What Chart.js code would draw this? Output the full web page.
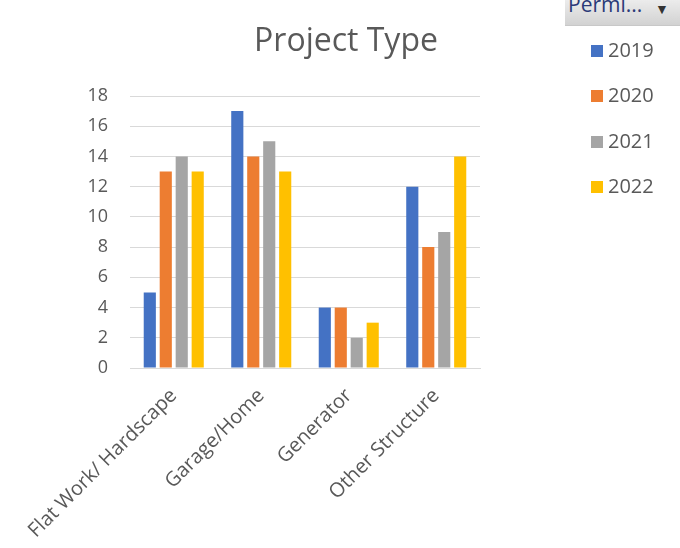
<!DOCTYPE html>
<html>
<head>
<meta charset="utf-8">
<script src="https://cdn.jsdelivr.net/npm/chart.js@4/dist/chart.umd.min.js"></script>
<style>
    body { margin: 0; background: #fff; }
    .wrap { position: relative; width: 680px; height: 548px; overflow: hidden; font-family: 'Open Sans', 'Liberation Sans', sans-serif; }
    #chart { position: absolute; left: 0; top: 0; }
    .title { position: absolute; left: 196px; width: 300px; top: 17px; text-align: center; font-size: 32px; color: #595959; }
    .filter { position: absolute; left: 565px; top: -6px; width: 115px; height: 31px; background: linear-gradient(#f2f2f2, #d2d2d2); border-bottom: 1px solid #c8c8c8; overflow: hidden; }
    .filter span { position: absolute; left: 3px; top: -4px; font-size: 21px; color: #2b3a78; }
    .filter b { position: absolute; left: 90px; top: 5px; font-size: 14px; color: #333; }
    .legend { position: absolute; left: 591px; top: 35px; }
    .legend div { height: 45.3px; font-size: 20px; color: #595959; line-height: 30px; }
    .legend i { display: inline-block; width: 12px; height: 12px; margin-right: 5px; vertical-align: 0px; }
</style>
</head>
<body>
<div class="wrap">
    <canvas id="chart" width="680" height="548"></canvas>
    <div class="title">Project Type</div>
    <div class="filter"><span>Permi...</span><b>&#9660;</b></div>
    <div class="legend" id="legend"></div>
</div>
<script>
const categories = ['Flat Work/ Hardscape', 'Garage/Home', 'Generator', 'Other Structure'];
const years = ['2019', '2020', '2021', '2022'];
const colors = ['#4472C4', '#ED7D31', '#A5A5A5', '#FFC000'];
const counts2019 = [5, 17, 4, 12];
const counts2020 = [13, 14, 4, 8];
const counts2021 = [14, 15, 2, 9];
const counts2022 = [13, 13, 3, 14];
const yTicks = [0, 2, 4, 6, 8, 10, 12, 14, 16, 18];

const series = [counts2019, counts2020, counts2021, counts2022];
const fontFamily = "'Open Sans', 'Liberation Sans', sans-serif";

// legend on the right, built from the same series list
const legend = document.getElementById('legend');
years.forEach((y, i) => {
    const row = document.createElement('div');
    row.innerHTML = '<i style="background:' + colors[i] + '"></i>' + y;
    legend.appendChild(row);
});

const ctx = document.getElementById('chart');
new Chart(ctx, {
    type: 'bar',
    data: {
        labels: categories,
        datasets: years.map((y, i) => ({
            label: y,
            data: series[i],
            backgroundColor: colors[i],
            barPercentage: 0.76,
            categoryPercentage: 0.73,
        })),
    },
    options: {
        responsive: false,
        animation: false,
        layout: {
            padding: { top: 96, right: 200, left: 0, bottom: 0 },
        },
        plugins: {
            legend: { display: false },
            tooltip: { enabled: false },
        },
        scales: {
            x: {
                grid: { display: false },
                border: { color: '#d9d9d9' },
                ticks: {
                    color: '#595959',
                    font: { family: fontFamily, size: 20 },
                    minRotation: 45,
                    maxRotation: 45,
                    padding: 8,
                    autoSkip: false,
                },
                afterFit: (s) => { s.height = 180; },
            },
            y: {
                min: 0,
                max: 18,
                afterBuildTicks: (s) => { s.ticks = yTicks.map(v => ({ value: v })); },
                grid: { color: '#d9d9d9', drawTicks: false },
                border: { display: false },
                ticks: {
                    color: '#595959',
                    font: { family: fontFamily, size: 18 },
                    padding: 22,
                },
                afterFit: (s) => { s.width = 130; },
            },
        },
    },
});
</script>
</body>
</html>
